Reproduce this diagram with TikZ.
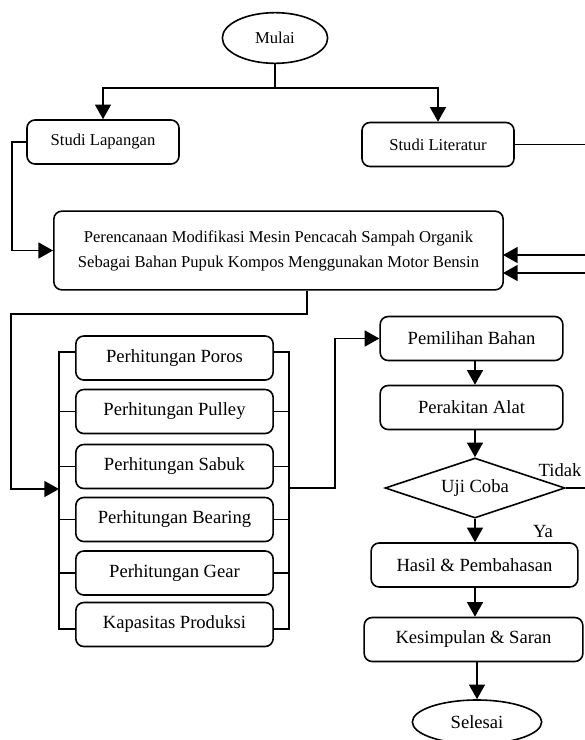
\documentclass[tikz,border=0pt]{standalone}
\usepackage{fontspec}
\setmainfont{Liberation Serif}
\usetikzlibrary{shapes.geometric, arrows.meta, calc}

\begin{document}
\begin{tikzpicture}[x=0.75pt, y=-0.75pt,
    line width=1.2pt,
    every node/.style={font=\fontsize{13.95}{18.75}\selectfont, inner sep=0pt},
    kecil/.style={font=\fontsize{12.45}{18.75}\selectfont},
    kotak/.style={draw, rounded corners=6pt, align=center, minimum height=33pt},
    oval/.style={draw, ellipse, minimum width=79pt, minimum height=38pt},
    belah/.style={draw, diamond, aspect=3, minimum width=135pt, minimum height=45pt},
    arr/.style={-{Triangle[length=11pt, width=12pt]}}]
	\useasboundingbox (0,0) rectangle (585,740);

	% Awal
	\node[oval, kecil] (mulai) at (275,38) {Mulai};
	\node[kotak, kecil, minimum width=114pt] (lapangan) at (103,142) {Studi Lapangan};
	\node[kotak, kecil, minimum width=114pt] (literatur) at (438,144.5) {Studi Literatur};
	\node[kotak, kecil, minimum width=337pt, minimum height=59pt] (rencana) at (278.5,250.5)
		{Perencanaan Modifikasi Mesin Pencacah Sampah Organik\\Sebagai Bahan Pupuk Kompos Menggunakan Motor Bensin};

	% Perhitungan
	\node[kotak, minimum width=148pt] (poros) at (174.5,358) {Perhitungan Poros};
	\node[kotak, minimum width=148pt] (pulley) at (174.5,411.5) {Perhitungan Pulley};
	\node[kotak, minimum width=148pt] (sabuk) at (174.5,466.5) {Perhitungan Sabuk};
	\node[kotak, minimum width=148pt] (bearing) at (174.5,519.5) {Perhitungan Bearing};
	\node[kotak, minimum width=148pt] (gear) at (174.5,573) {Perhitungan Gear};
	\node[kotak, minimum width=148pt] (kapasitas) at (174.5,624.5) {Kapasitas Produksi};

	% Pembuatan
	\node[kotak, minimum width=137pt] (bahan) at (471.5,338.5) {Pemilihan Bahan};
	\node[kotak, minimum width=137pt] (rakit) at (471.5,407.5) {Perakitan Alat};
	\node[belah] (uji) at (475,488) {Uji Coba};
	\node[kotak, minimum width=155pt] (hasil) at (474.5,565) {Hasil \& Pembahasan};
	\node[kotak, minimum width=164pt] (simpul) at (473.5,639.5) {Kesimpulan \& Saran};
	\node[oval, minimum width=97pt, minimum height=33pt] (selesai) at (477,722) {Selesai};
	\node (tidak) at (560,470) {Tidak};
	\node (ya) at (543,531) {Ya};

	% Titik bantu
	\coordinate (cabang) at (275,88);
	\coordinate (kiri) at (12,0);
	\coordinate (turun) at (307,314);
	\coordinate (kiri2) at (11,0);
	\coordinate (lbus) at (59,0);
	\coordinate (rbus) at (289,0);
	\coordinate (atas) at (0,352);
	\coordinate (bawah) at (0,629);
	\coordinate (masuk) at (59,489);
	\coordinate (keluar) at (289,488);
	\coordinate (belok) at (335,0);
	\coordinate (luar1) at (600,0);
	\coordinate (luar2) at (594,0);
	\coordinate (balikA) at (503,255);
	\coordinate (balikB) at (503,273);

	% Alur atas
	\draw (mulai) -- (cabang);
	\draw[arr] (cabang) -| (lapangan);
	\draw[arr] (cabang) -| (literatur);
	\draw[arr] (lapangan.west) -- (lapangan.west -| kiri) |- (rencana.west);
	\draw[arr] (literatur.east) -- (literatur.east -| luar1) |- (balikA);
	\draw[arr] (turun |- rencana.south) -- (turun) -- (turun -| kiri2) |- (masuk);

	% Bus perhitungan
	\draw (poros.west |- atas) -- (lbus |- atas) -- (lbus |- bawah) -- (kapasitas.west |- bawah);
	\draw (poros.east |- atas) -- (rbus |- atas) -- (rbus |- bawah) -- (kapasitas.east |- bawah);
	\foreach \n in {pulley, sabuk, bearing, gear} {
			\draw (\n.west) -- (\n.west -| lbus);
			\draw (\n.east) -- (\n.east -| rbus);
		}
	\draw[arr] (keluar) -- (keluar -| belok) |- (bahan.west);

	% Alur kanan
	\draw[arr] (bahan.south -| uji.north) -- (rakit.north -| uji.north);
	\draw[arr] (rakit.south -| uji.north) -- (uji.north);
	\draw[arr] (uji.south) -- (hasil.north -| uji.south);
	\draw[arr] (hasil.south -| uji.south) -- (simpul.north -| uji.south);
	\draw[arr] (simpul.south -| selesai.north) -- (selesai.north);
	\draw[arr] (uji.east) -- (uji.east -| luar2) |- (balikB);
\end{tikzpicture}
\end{document}
